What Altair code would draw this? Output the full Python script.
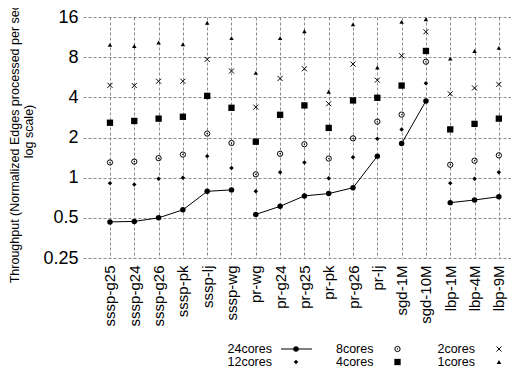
import json
import altair as alt
import pandas as pd

categories = ["sssp-g25", "sssp-g24", "sssp-g26", "sssp-pk", "sssp-lj", "sssp-wg",
              "pr-wg", "pr-g24", "pr-g25", "pr-pk", "pr-g26", "pr-lj",
              "sgd-1M", "sgd-10M", "lbp-1M", "lbp-4M", "lbp-9M"]
groups = ["sssp"] * 6 + ["pr"] * 6 + ["sgd"] * 2 + ["lbp"] * 3

cores24 = [0.466, 0.47, 0.50, 0.574, 0.79, 0.81, 0.53, 0.61, 0.73, 0.76, 0.84, 1.45, 1.80, 3.76, 0.65, 0.68, 0.72]
cores12 = [0.91, 0.89, 0.98, 1.0, 1.45, 1.18, 0.79, 1.10, 1.30, 0.99, 1.42, 1.96, 2.3, 5.1, 0.91, 0.98, 1.10]
cores8 = [1.30, 1.32, 1.40, 1.49, 2.14, 1.82, 1.06, 1.51, 1.78, 1.39, 1.97, 2.63, 2.97, 7.4, 1.25, 1.34, 1.47]
cores4 = [2.58, 2.66, 2.77, 2.86, 4.1, 3.34, 1.86, 2.96, 3.48, 2.36, 3.79, 3.97, 4.9, 8.9, 2.3, 2.53, 2.77]
cores2 = [4.92, 4.9, 5.28, 5.28, 7.7, 6.3, 3.38, 5.54, 6.55, 3.58, 7.1, 5.38, 8.2, 12.4, 4.25, 4.7, 5.0]
cores1 = [9.9, 9.7, 10.3, 10.0, 14.5, 11.1, 6.1, 11.1, 12.5, 4.4, 14.1, 6.7, 14.7, 15.4, 7.8, 8.9, 9.4]

series_names = ["24cores", "12cores", "8cores", "4cores", "2cores", "1cores"]
series_values = [cores24, cores12, cores8, cores4, cores2, cores1]
legend_col = [0, 0, 1, 1, 2, 2]
legend_row = [0, 1, 0, 1, 0, 1]
y_ticks = [0.25, 0.5, 1, 2, 4, 8, 16]
y_title = ["Throughput (Normalized Edges processed per second,", "log scale)"]

rows = []
for name, vals in zip(series_names, series_values):
    for i, (c, g, v) in enumerate(zip(categories, groups, vals)):
        rows.append(dict(idx=i, category=c, group=g, series=name, value=v))
df = pd.DataFrame(rows)
leg = pd.DataFrame(dict(series=series_names, col=legend_col, row=legend_row))

FONT = "Liberation Sans"
GRID_DASH = [3, 2]
GRID_COLOR = "#8c8c8c"

xenc = alt.X(
    "idx:Q",
    scale=alt.Scale(domain=[-1.11, 16.5], nice=False, zero=False),
    axis=alt.Axis(values=list(range(len(categories))),
                  labelExpr=json.dumps(categories) + "[datum.value]",
                  labelAngle=-90, labelFontSize=15, labelPadding=7, labelFont=FONT,
                  labelColor="black", labelOverlap=False, labelFlush=False,
                  ticks=False, domain=False, grid=True, gridDash=GRID_DASH,
                  gridColor=GRID_COLOR, gridOpacity=1, gridWidth=1),
    title=None,
)
yenc = alt.Y(
    "value:Q",
    scale=alt.Scale(type="log", domain=[0.25, 16], nice=False),
    axis=alt.Axis(values=y_ticks, format="~g", labelFontSize=18, labelPadding=5,
                  labelFont=FONT, labelColor="black", labelOverlap=False, labelFlush=False,
                  ticks=False, domain=False, grid=True, gridDash=GRID_DASH,
                  gridColor=GRID_COLOR, gridOpacity=1, gridWidth=1,
                  title=y_title, titleFont=FONT, titleFontSize=12.5,
                  titleFontWeight="normal", titleColor="black", titlePadding=7,
                  titleY=114),
)

styles = {
    "24cores": dict(shape="circle", filled=True, size=30),
    "12cores": dict(shape="diamond", filled=True, size=20),
    "8cores": dict(shape="circle", filled=False, size=28, strokeWidth=1),
    "4cores": dict(shape="square", filled=True, size=40),
    "2cores": dict(shape="M-1,-1L1,1M1,-1L-1,1", filled=False, size=25, strokeWidth=1),
    "1cores": dict(shape="triangle-up", filled=True, size=20),
}

base = alt.Chart(df)
main_layers = [
    base.transform_filter(alt.datum.series == "24cores")
    .mark_line(color="black", strokeWidth=1)
    .encode(x=xenc, y=yenc, detail="group:N")
]
for name in series_names:
    st = styles[name]
    main_layers.append(
        base.transform_filter(alt.datum.series == name)
        .mark_point(color="black", opacity=1, **st)
        .encode(x=xenc, y=yenc)
    )
main_layers.append(
    base.transform_filter(alt.datum.series == "8cores")
    .mark_point(color="black", shape="circle", filled=True, size=2, opacity=1)
    .encode(x=xenc, y=yenc)
)
main = alt.layer(*main_layers)

lx = alt.X("col:Q", scale=alt.Scale(domain=[0, 2], range=[189, 392], zero=False, nice=False), axis=None)
ly = alt.Y("row:Q", scale=alt.Scale(domain=[0, 1], range=[332, 345], zero=False, nice=False), axis=None)
lbase = alt.Chart(leg)
legend_layers = [
    lbase.mark_text(align="right", baseline="middle", fontSize=12.5, font=FONT, color="black")
    .encode(x=lx, y=ly, text="series:N"),
    lbase.transform_filter(alt.datum.series == "24cores")
    .mark_rule(color="black", strokeWidth=1, xOffset=9, x2Offset=40)
    .encode(x=lx, x2="col:Q", y=ly),
]
for name in series_names:
    st = styles[name]
    legend_layers.append(
        lbase.transform_filter(alt.datum.series == name)
        .mark_point(color="black", opacity=1, xOffset=24, **st)
        .encode(x=lx, y=ly)
    )
legend_layers.append(
    lbase.transform_filter(alt.datum.series == "8cores")
    .mark_point(color="black", shape="circle", filled=True, size=2, opacity=1, xOffset=24)
    .encode(x=lx, y=ly)
)
legend = alt.layer(*legend_layers)

chart = (
    alt.layer(main, legend)
    .resolve_scale(x="independent", y="independent")
    .properties(width=428, height=241,
                autosize=alt.AutoSizeParams(type="none"),
                padding={"left": 75, "top": 9, "right": 0, "bottom": 112})
    .configure(font=FONT)
    .configure_view(strokeWidth=0)
)

chart.save("out.html", embed_options={"renderer": "svg", "actions": False})
